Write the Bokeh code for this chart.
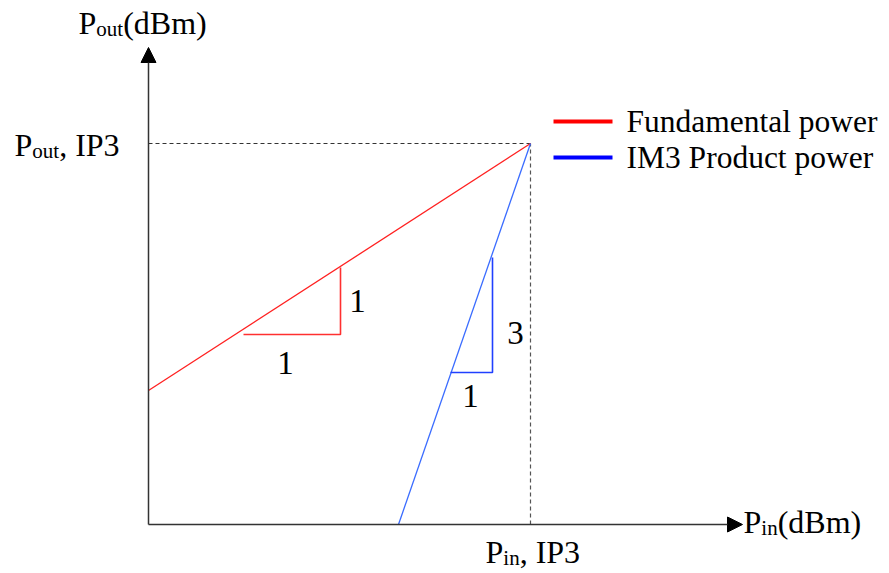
from bokeh.plotting import figure
from bokeh.models import Range1d, Arrow, NormalHead
from bokeh.core.properties import value
from bokeh.embed import file_html
from bokeh.resources import INLINE

FONT = "Liberation Serif"

# ---- schematic data (arbitrary dB units, origin at axes crossing) ----
axis_x_end = 594          # end of P_in axis (arrow tip)
axis_y_end = 477          # end of P_out axis (arrow tip)
pin_ip3 = 382             # P_in at IP3
pout_ip3 = 381            # P_out at IP3
fund_x = [0, 382]         # fundamental power line
fund_y = [134, 381]
im3_x = [250, 382]        # IM3 product power line
im3_y = [0, 381]
fund_tri_x = [95, 192, 192]   # slope 1:1 triangle
fund_tri_y = [190, 190, 257]
im3_tri_x = [302, 344, 344]   # slope 1:3 triangle
im3_tri_y = [152, 152, 267]
legend_labels = ["Fundamental power", "IM3 Product power"]
legend_colors = ["#ff0000", "#0000ff"]
line_colors = ["#ff2020", "#3a6cff"]

W, H = 887, 571
OX, OY = 148, H - 524   # pixel position of origin inside the canvas

p = figure(width=W, height=H, output_backend="svg", toolbar_location=None,
           x_range=Range1d(-OX, W - OX), y_range=Range1d(-OY, H - OY),
           min_border=0, x_axis_location=None, y_axis_location=None)
p.grid.visible = False
p.outline_line_color = None
p.background_fill_color = "white"
p.border_fill_color = "white"

# axes with arrows
p.add_layout(Arrow(end=NormalHead(size=15, fill_color="black", line_color="black", line_width=1),
                   x_start=0, y_start=0, x_end=axis_x_end, y_end=0,
                   line_color="#333333", line_width=1.5))
p.add_layout(Arrow(end=NormalHead(size=15, fill_color="black", line_color="black", line_width=1),
                   x_start=0, y_start=0, x_end=0, y_end=axis_y_end,
                   line_color="#333333", line_width=1.5))

# dashed guide lines
p.line([0, pin_ip3], [pout_ip3, pout_ip3], line_color="#333333", line_dash="4 3", line_width=1.2)
p.line([pin_ip3, pin_ip3], [0, pout_ip3], line_color="#555555", line_dash="4 3", line_width=1.2)

# characteristic lines
p.line(fund_x, fund_y, line_color=line_colors[0], line_width=1.3)
p.line(im3_x, im3_y, line_color=line_colors[1], line_width=1.3)

# slope triangles
p.line(fund_tri_x, fund_tri_y, line_color="#ff3030", line_width=1.6)
p.line(im3_tri_x, im3_tri_y, line_color="#2040ff", line_width=1.6)

# legend
for i, (lab, col) in enumerate(zip(legend_labels, legend_colors)):
    yy = 403 - 36 * i
    p.line([405, 464], [yy, yy], line_color=col, line_width=4)
    p.text(x=[478], y=[yy], text=[lab], text_font=value(FONT), text_font_size="31.5px",
           text_baseline="middle", text_align="left", text_color="black")

# simple labels
def lbl(x, y, t, size=33):
    p.text(x=[x], y=[y], text=[t], text_font=value(FONT), text_font_size=f"{size}px",
           text_baseline="middle", text_align="center", text_color="black")

lbl(209, 224, "1")
lbl(137, 162, "1")
lbl(367, 192, "3")
lbl(322, 129, "1")

# labels with subscripts (y given as baseline)
WID = {"P": .556, "o": .5, "u": .5, "t": .278, "i": .278, "n": .5, "(": .333, ")": .333,
       "d": .5, "B": .667, "m": .778, ",": .25, " ": .25, "I": .333, "3": .5}

def tw(s, size):
    return sum(WID.get(c, .5) for c in s) * size

def sub_label(x, y, parts, size=32, sub=21):
    cx = x
    for t, is_sub in parts:
        s = sub if is_sub else size
        base = y - (3 if is_sub else 0)
        p.text(x=[cx], y=[base + 0.34 * s], text=[t], text_font=value(FONT),
               text_font_size=f"{s}px", text_baseline="middle", text_align="left",
               text_color="black")
        cx += tw(t, s)

sub_label(-70, 491, [("P", False), ("out", True), ("(dBm)", False)])
sub_label(-134, 369, [("P", False), ("out", True), (", IP3", False)])
sub_label(595, -8, [("P", False), ("in", True), ("(dBm)", False)])
sub_label(337, -38, [("P", False), ("in", True), (", IP3", False)])

open("out.html", "w").write(file_html(p, INLINE))
